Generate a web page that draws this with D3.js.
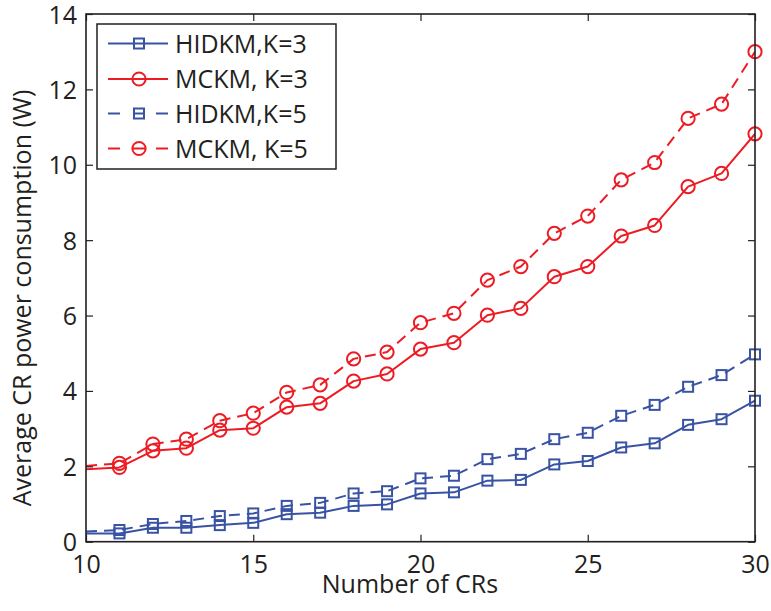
<!DOCTYPE html>
<html>
<head>
<meta charset="utf-8">
<script src="https://cdn.jsdelivr.net/npm/d3@7"></script>
<style>
  html, body { margin: 0; padding: 0; background: #fff; }
  svg text { font-family: "Open Sans", "Noto Sans", sans-serif; fill: #231f20; }
</style>
</head>
<body>
<svg id="chart" width="771" height="611"></svg>
<script>
// Number of CRs on the x axis
const crCounts = [10, 11, 12, 13, 14, 15, 16, 17, 18, 19, 20, 21, 22, 23, 24, 25, 26, 27, 28, 29, 30];

// Average CR power consumption (W) per scheme
const hidkmK3 = [0.22, 0.22, 0.37, 0.37, 0.44, 0.50, 0.73, 0.77, 0.95, 0.99, 1.28, 1.31, 1.62, 1.64, 2.05, 2.14, 2.50, 2.61, 3.10, 3.25, 3.74];
const mckmK3  = [1.92, 1.97, 2.41, 2.48, 2.96, 3.01, 3.57, 3.67, 4.26, 4.45, 5.11, 5.28, 6.01, 6.19, 7.03, 7.30, 8.11, 8.39, 9.42, 9.77, 10.82];
const hidkmK5 = [0.27, 0.31, 0.47, 0.55, 0.68, 0.75, 0.95, 1.03, 1.28, 1.34, 1.68, 1.75, 2.19, 2.33, 2.72, 2.89, 3.34, 3.63, 4.11, 4.42, 4.97];
const mckmK5  = [2.01, 2.08, 2.59, 2.72, 3.21, 3.41, 3.96, 4.16, 4.85, 5.03, 5.81, 6.06, 6.94, 7.30, 8.18, 8.64, 9.60, 10.06, 11.23, 11.61, 13.00];

// Axis ticks and series labels
const xTicks = [10, 15, 20, 25, 30];
const yTicks = [0, 2, 4, 6, 8, 10, 12, 14];
const seriesNames = ["HIDKM,K=3", "MCKM, K=3", "HIDKM,K=5", "MCKM, K=5"];

const BLUE = "#3953a4";
const RED = "#ed1c24";

const series = [
  { name: seriesNames[0], values: hidkmK3, color: BLUE, dash: null, marker: "square" },
  { name: seriesNames[1], values: mckmK3,  color: RED,  dash: null, marker: "circle" },
  { name: seriesNames[2], values: hidkmK5, color: BLUE, dash: "11,7", marker: "square" },
  { name: seriesNames[3], values: mckmK5,  color: RED,  dash: "11,7", marker: "circle" }
];

const svg = d3.select("#chart");
const plotL = 86, plotR = 755, plotT = 14, plotB = 541.7;

const x = d3.scaleLinear().domain([10, 30]).range([plotL, plotR]);
const y = d3.scaleLinear().domain([0, 14]).range([plotB, plotT]);

const FONT = 25;
const axisColor = "#231f20";

// Clip for lines
svg.append("defs").append("clipPath").attr("id", "plotClip")
  .append("rect").attr("x", plotL).attr("y", plotT).attr("width", plotR - plotL).attr("height", plotB - plotT);

// Series lines and markers
const line = d3.line().x((d, i) => x(crCounts[i])).y(d => y(d));

function drawMarker(g, type, cx, cy, color) {
  if (type === "square") {
    g.append("rect")
      .attr("x", cx - 5).attr("y", cy - 5).attr("width", 10).attr("height", 10)
      .attr("fill", "none").attr("stroke", color).attr("stroke-width", 2);
  } else {
    g.append("circle")
      .attr("cx", cx).attr("cy", cy).attr("r", 6.6)
      .attr("fill", "none").attr("stroke", color).attr("stroke-width", 2);
  }
}

const plot = svg.append("g");
series.forEach(s => {
  plot.append("path")
    .attr("d", line(s.values))
    .attr("clip-path", "url(#plotClip)")
    .attr("fill", "none")
    .attr("stroke", s.color)
    .attr("stroke-width", 2)
    .attr("stroke-dasharray", s.dash)
    .attr("stroke-linejoin", "round");
  const mg = plot.append("g");
  s.values.forEach((v, i) => {
    // the marker sitting on the left axis line is clipped away
    if (crCounts[i] <= x.domain()[0]) return;
    drawMarker(mg, s.marker, x(crCounts[i]), y(v), s.color);
  });
});

// Frame and ticks (ticks point inward on all four sides)
const tickLen = 7;
const axisG = svg.append("g");

const xAxisB = d3.axisBottom(x).tickValues(xTicks).tickSizeInner(-tickLen).tickSizeOuter(0).tickPadding(10).tickFormat(d3.format("d"));
const xAxisT = d3.axisTop(x).tickValues(xTicks).tickSizeInner(-tickLen).tickSizeOuter(0).tickFormat("");
const yAxisL = d3.axisLeft(y).tickValues(yTicks).tickSizeInner(-tickLen).tickSizeOuter(0).tickPadding(10).tickFormat(d3.format("d"));
const yAxisR = d3.axisRight(y).tickValues(yTicks).tickSizeInner(-tickLen).tickSizeOuter(0).tickFormat("");

const gB = axisG.append("g").attr("transform", `translate(0,${plotB})`).call(xAxisB);
const gT = axisG.append("g").attr("transform", `translate(0,${plotT})`).call(xAxisT);
const gL = axisG.append("g").attr("transform", `translate(${plotL},0)`).call(yAxisL);
const gR = axisG.append("g").attr("transform", `translate(${plotR},0)`).call(yAxisR);

[gB, gT, gL, gR].forEach(g => {
  g.select(".domain").remove();
  g.selectAll(".tick line").attr("stroke", axisColor).attr("stroke-width", 1.2);
  g.selectAll("text").attr("font-size", FONT).attr("fill", axisColor)
    .style("font-family", '"Open Sans", "Noto Sans", sans-serif');
});
gB.selectAll("text").attr("dy", "0.71em").attr("y", 14);
gL.selectAll("text").attr("x", -9).attr("dy", "0.36em");

axisG.append("rect")
  .attr("x", plotL).attr("y", plotT).attr("width", plotR - plotL).attr("height", plotB - plotT)
  .attr("fill", "none").attr("stroke", axisColor).attr("stroke-width", 1.6);

// Axis titles
svg.append("text")
  .attr("x", 410).attr("y", 593)
  .attr("text-anchor", "middle")
  .attr("font-size", FONT)
  .text("Number of CRs");

svg.append("text")
  .attr("transform", "translate(31,298) rotate(-90)")
  .attr("text-anchor", "middle")
  .attr("font-size", FONT)
  .text("Average CR power consumption (W)");

// Legend
const lg = svg.append("g");
lg.append("rect")
  .attr("x", 97).attr("y", 24).attr("width", 239).attr("height", 145)
  .attr("fill", "#fff").attr("stroke", axisColor).attr("stroke-width", 1.5);

const rowY = [43.5, 79, 113.5, 148.5];
series.forEach((s, i) => {
  const yy = rowY[i];
  if (s.dash) {
    lg.append("line").attr("x1", 108).attr("x2", 120).attr("y1", yy).attr("y2", yy)
      .attr("stroke", s.color).attr("stroke-width", 2);
    lg.append("line").attr("x1", 156).attr("x2", 168).attr("y1", yy).attr("y2", yy)
      .attr("stroke", s.color).attr("stroke-width", 2);
    lg.append("line").attr("x1", 133).attr("x2", 145).attr("y1", yy).attr("y2", yy)
      .attr("stroke", s.color).attr("stroke-width", 2);
  } else {
    lg.append("line").attr("x1", 108).attr("x2", 168).attr("y1", yy).attr("y2", yy)
      .attr("stroke", s.color).attr("stroke-width", 2);
  }
  drawMarker(lg, s.marker, 139, yy, s.color);
  lg.append("text")
    .attr("x", 175).attr("y", yy).attr("dy", "0.36em")
    .attr("font-size", FONT)
    .text(s.name);
});
</script>
</body>
</html>
